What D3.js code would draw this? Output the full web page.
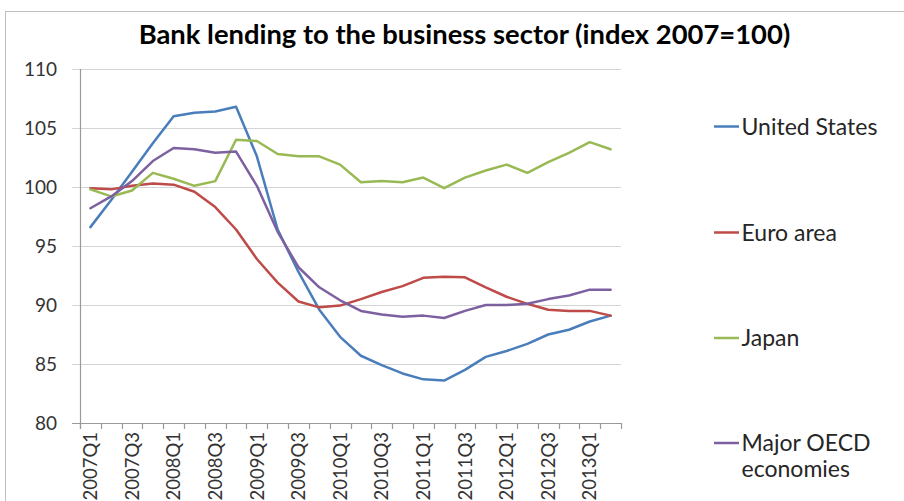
<!DOCTYPE html>
<html>
<head>
<meta charset="utf-8">
<script src="https://cdn.jsdelivr.net/npm/d3@7"></script>
<style>
  html, body { margin: 0; padding: 0; background: #fff; }
  svg { display: block; }
  text { font-family: Lato, "Open Sans", "DejaVu Sans", sans-serif; }
</style>
</head>
<body>
<svg id="chart" width="904" height="501"></svg>
<script>
const categories = ["2007Q1","2007Q2","2007Q3","2007Q4","2008Q1","2008Q2","2008Q3","2008Q4",
  "2009Q1","2009Q2","2009Q3","2009Q4","2010Q1","2010Q2","2010Q3","2010Q4",
  "2011Q1","2011Q2","2011Q3","2011Q4","2012Q1","2012Q2","2012Q3","2012Q4",
  "2013Q1","2013Q2"];
const unitedStates = [96.6, 98.9, 101.3, 103.7, 106.0, 106.3, 106.4, 106.8, 102.6, 96.4, 92.8, 89.6,
  87.3, 85.7, 84.9, 84.2, 83.7, 83.6, 84.5, 85.6, 86.1, 86.7, 87.5, 87.9, 88.6, 89.1];
const euroArea = [99.9, 99.8, 100.1, 100.3, 100.2, 99.6, 98.3, 96.4, 93.9, 91.9, 90.3, 89.8,
  89.95, 90.5, 91.1, 91.6, 92.3, 92.4, 92.35, 91.5, 90.7, 90.1, 89.6, 89.5, 89.5, 89.1];
const japan = [99.8, 99.2, 99.7, 101.2, 100.7, 100.1, 100.5, 104.0, 103.9, 102.8, 102.6, 102.6,
  101.9, 100.4, 100.5, 100.4, 100.8, 99.9, 100.8, 101.4, 101.9, 101.2, 102.1, 102.9, 103.8, 103.2];
const majorOECD = [98.2, 99.2, 100.5, 102.2, 103.3, 103.2, 102.9, 103.0, 100.1, 96.2, 93.2, 91.5,
  90.4, 89.5, 89.2, 89.0, 89.1, 88.9, 89.5, 90.0, 90.0, 90.1, 90.5, 90.8, 91.3, 91.3];
const yTicks = [80, 85, 90, 95, 100, 105, 110];
const xTickLabels = categories.filter((c, i) => i % 2 === 0);
const seriesNames = ["United States", "Euro area", "Japan", "Major OECD economies"];
const seriesColors = ["#4A7EBB", "#BE4B48", "#98B954", "#7D60A0"];
const seriesValues = [unitedStates, euroArea, japan, majorOECD];
const titleText = "Bank lending to the business sector (index 2007=100)";

const svg = d3.select("#chart");

// outer chart border
svg.append("rect").attr("x", 5.5).attr("y", 11.5).attr("width", 950).attr("height", 560)
  .attr("fill", "none").attr("stroke", "#c0c0c0").attr("stroke-width", 1);

const x = d3.scaleBand().domain(categories).range([80, 621]).paddingInner(0).paddingOuter(0);
const y = d3.scaleLinear().domain([80, 110]).range([423, 69]);
const cx = c => x(c) + x.bandwidth() / 2;

// gridlines
svg.append("g").selectAll("line").data(yTicks).join("line")
  .attr("x1", 72).attr("x2", 621)
  .attr("y1", d => Math.round(y(d)) + 0.5).attr("y2", d => Math.round(y(d)) + 0.5)
  .attr("stroke", d => d === 80 ? "#9a9a9a" : "#d4d4d4").attr("stroke-width", 1.2);

// y axis line
svg.append("line").attr("x1", 80.5).attr("x2", 80.5).attr("y1", y(110)).attr("y2", y(80) + 6)
  .attr("stroke", "#9a9a9a").attr("stroke-width", 1.2);

// x axis ticks at category boundaries
const bounds = categories.map(c => x(c)).concat([621]);
svg.append("g").selectAll("line").data(bounds).join("line")
  .attr("x1", d => Math.round(d) + 0.5).attr("x2", d => Math.round(d) + 0.5)
  .attr("y1", y(80)).attr("y2", y(80) + 6)
  .attr("stroke", "#9a9a9a").attr("stroke-width", 1.2);

// y tick labels
svg.append("g").selectAll("text").data(yTicks).join("text")
  .attr("x", 57).attr("y", d => y(d)).attr("dy", "0.36em")
  .attr("text-anchor", "end").attr("font-size", 19).attr("fill", "#333")
  .text(d => d);

// x tick labels (rotated)
svg.append("g").selectAll("text").data(xTickLabels).join("text")
  .attr("transform", d => `translate(${cx(d)},432) rotate(-90)`)
  .attr("dy", "0.36em").attr("text-anchor", "end")
  .attr("font-size", 18.5).attr("fill", "#333")
  .text(d => d);

// lines
const line = d3.line().x((v, i) => cx(categories[i])).y(v => y(v));
seriesValues.forEach((vals, k) => {
  svg.append("path").datum(vals).attr("d", line)
    .attr("fill", "none").attr("stroke", seriesColors[k]).attr("stroke-width", 2.5)
    .attr("stroke-linejoin", "round").attr("stroke-linecap", "round");
});

// title, fit to width
const title = svg.append("text").attr("x", 464.5).attr("y", 44).attr("text-anchor", "middle")
  .attr("font-weight", "bold").attr("font-size", 20).attr("fill", "#000").text(titleText);
const tw = title.node().getComputedTextLength();
title.attr("font-size", 20 * 652 / tw);

// legend
const legendY = [126.5, 232.5, 338, 443];
const lg = svg.append("g");
seriesNames.forEach((name, k) => {
  lg.append("line").attr("x1", 714).attr("x2", 739).attr("y1", legendY[k]).attr("y2", legendY[k])
    .attr("stroke", seriesColors[k]).attr("stroke-width", 2.5);
});
const probe = lg.append("text").attr("font-size", 17).text("United States");
const lfs = 17 * 136 / probe.node().getComputedTextLength();
probe.remove();
const legendLines = [["United States"], ["Euro area"], ["Japan"], ["Major OECD", "economies"]];
legendLines.forEach((parts, k) => {
  parts.forEach((p, j) => {
    lg.append("text").attr("x", 741.5).attr("y", legendY[k] + j * 26).attr("dy", "0.36em")
      .attr("font-size", lfs).attr("fill", "#262626").text(p);
  });
});
</script>
</body>
</html>
